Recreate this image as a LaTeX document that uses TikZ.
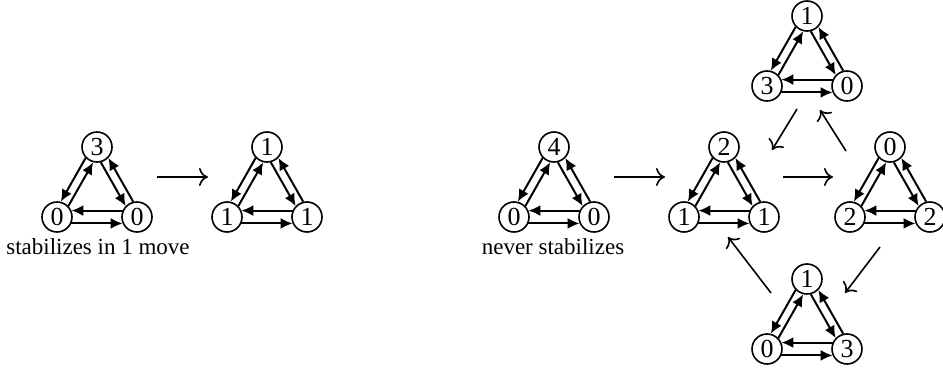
\documentclass[tikz,border=0pt]{standalone}
\usepackage{fontspec}
\setmainfont{Liberation Serif}
\usetikzlibrary{arrows,arrows.meta}
\tikzset{vertex/.style={circle, draw, line width=.8pt, inner sep=0pt, minimum size=15pt, font=\fontsize{13}{15}\selectfont}}
\tikzset{flow/.style={line width=1pt, -{Latex[length=6pt,width=5.5pt]}}}
\tikzset{trans/.style={line width=.8pt, -{To[length=4.5pt,width=9pt]}}}

\begin{document}
\begin{tikzpicture}[x=.5pt,y=-.5pt,font=\fontsize{11.5}{13.5}\selectfont]
  \useasboundingbox (0,0) rectangle (943,369);
  % one triangle per configuration: name/x/y/top/left/right
  \foreach \n/\x/\y/\a/\b/\c in {
    s1/97/147/3/0/0,
    s2/267/147/1/1/1,
    n1/554/147/4/0/0,
    n2/724/147/2/1/1,
    n3/807/16/1/3/0,
    n4/890/147/0/2/2,
    n5/807/279/1/0/3%
  } {
    \node[vertex] (\n t) at (\x, \y) {\a};
    \node[vertex] (\n l) at (\x-40, \y+70) {\b};
    \node[vertex] (\n r) at (\x+40, \y+70) {\c};
    \coordinate (\n) at (\x, \y+30);
    \foreach \u/\v/\ang/\off in {
      t/l/240/16, l/t/60/16,
      l/r/0/24, r/l/180/24,
      r/t/120/16, t/r/300/16%
    }{
      \pgfmathtruncatemacro\sa{\ang-\off}
      \pgfmathtruncatemacro\ea{\ang+180+\off}
      \draw[flow] (\n\u.\sa) -- (\n\v.\ea);
    }
  }
  \node[anchor=base] (lab1) at (98,255) {stabilizes in 1 move};
  \node[anchor=base] (lab2) at (553,255) {never stabilizes};
  % moves between configurations
  \draw[trans, shorten <=30pt, shorten >=29.5pt] (s1) -- (s2);
  \draw[trans, shorten <=30pt, shorten >=29.5pt] (n1) -- (n2);
  \draw[trans, shorten <=29.5pt, shorten >=28.5pt] (n2) -- (n4);
  \draw[trans] (n3) ++(-10,63) -- ++(-25,41);
  \draw[trans] (n4) ++(-44,-26) -- ++(-26,-41);
  \draw[trans] (n4) ++(-10,70) -- ++(-35,46);
  \draw[trans] (n5) ++(-36,-16) -- ++(-43,-56);
\end{tikzpicture}
\end{document}
